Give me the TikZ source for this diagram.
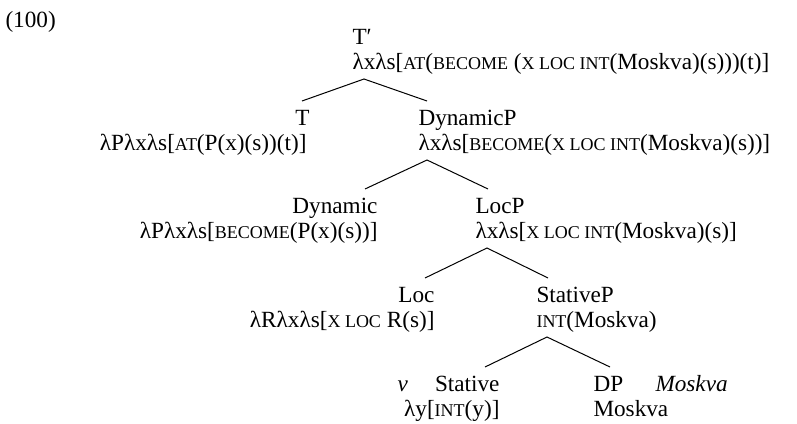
\documentclass[tikz,border=0pt]{standalone}
\usepackage{fontspec}
\setmainfont{Liberation Serif}
\usetikzlibrary{calc}

\newcommand{\sce}[1]{{\fontsize{9pt}{9pt}\selectfont\MakeUppercase{#1}}}

\begin{document}
\begin{tikzpicture}[x=0.5pt,y=-0.5pt,line width=0.5pt,
  lab/.style={inner sep=0pt,font=\fontsize{11.6pt}{12.5pt}\selectfont},
  ld/.style={lab,anchor=base east},
  rd/.style={lab,anchor=base west}]
\useasboundingbox (0,0) rectangle (797,423);

\node[rd] (ex) at (5,27) {(100)};

% root
\node[rd] (tbar) at (352,44) {T′};
\node[rd] (tbarsem) at (352,69) {λxλs[\sce{at}(\sce{become} (\sce{x loc int}(Moskva)(s)))(t)]};

% T and DynamicP
\node[ld] (t) at (310,125) {T};
\node[ld] (tsem) at (307,150) {λPλxλs[\sce{at}(P(x)(s))(t)]};
\node[rd] (dynp) at (418,125) {DynamicP};
\node[rd] (dynpsem) at (418,150) {λxλs[\sce{become}(\sce{x loc int}(Moskva)(s))]};

% Dynamic and LocP
\node[ld] (dyn) at (378,213) {Dynamic};
\node[ld] (dynsem) at (378,238) {λPλxλs[\sce{become}(P(x)(s))]};
\node[rd] (locp) at (475,213) {LocP};
\node[rd] (locpsem) at (475,238) {λxλs[\sce{x loc int}(Moskva)(s)]};

% Loc and StativeP
\node[ld] (loc) at (435,302) {Loc};
\node[ld] (locsem) at (435,327) {λRλxλs[\sce{x loc} R(s)]};
\node[rd] (statp) at (536,302) {StativeP};
\node[rd] (statpsem) at (536,327) {\sce{int}(Moskva)};

% Stative and DP
\node[rd] (nu) at (397,391) {\textit{ν}};
\node[ld] (stat) at (500,391) {Stative};
\node[ld] (statsem) at (500,416) {λy[\sce{int}(y)]};
\node[rd] (dp) at (593,391) {DP};
\node[rd] (dpit) at (655,391) {\textit{Moskva}};
\node[rd] (dpsem) at (593,416) {Moskva};

% branches
\draw ($(t.base east)+(-8,-24)$) -- ($(tbarsem.base west)+(12,10)$) -- ($(dynp.base west)+(9,-24)$);
\draw ($(dyn.base east)+(-13,-24)$) -- ($(dynpsem.base west)+(9,10)$) -- ($(locp.base west)+(13,-24)$);
\draw ($(loc.base east)+(-10,-24)$) -- ($(locpsem.base west)+(12,10)$) -- ($(statp.base west)+(12,-24)$);
\draw ($(stat.base east)+(-15,-24)$) -- ($(statpsem.base west)+(11,10)$) -- ($(dp.base west)+(17,-24)$);
\end{tikzpicture}
\end{document}
